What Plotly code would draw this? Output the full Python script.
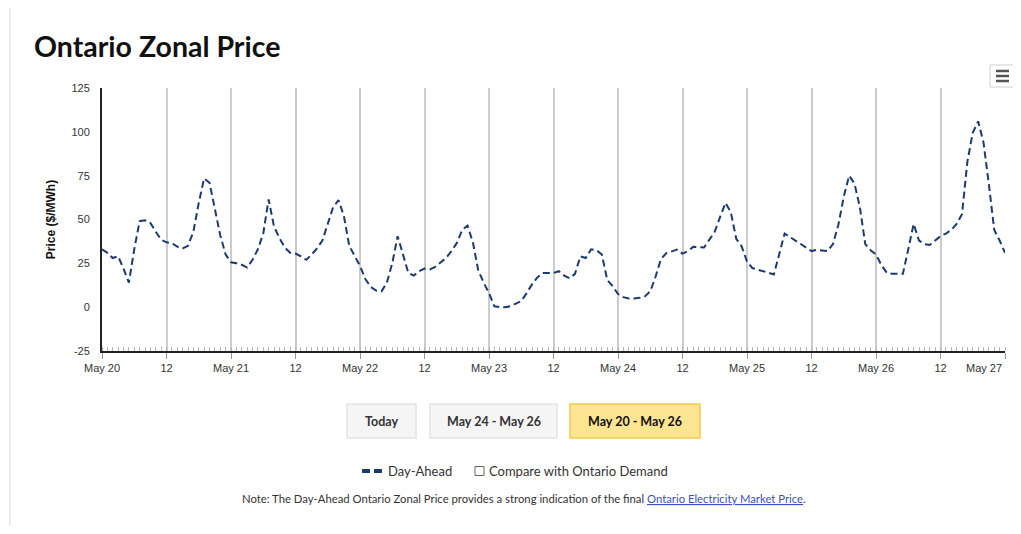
import pandas as pd
import plotly.graph_objects as go

# --- data: hourly day-ahead Ontario zonal price ---
start = "2024-05-20 00:00"
day_ahead_price = [
    # May 20
    33, 31, 28, 29, 22, 14, 33, 49, 49.5, 48, 43, 38.5,
    37, 36.5, 34.5, 33.5, 35, 43, 59.5, 73.5, 71, 55, 41, 30,
    # May 21
    25.6, 25, 24.2, 22.6, 27, 33, 42, 61.5, 46, 39.5, 34, 31,
    30.6, 29, 27, 30, 33.5, 38, 47, 57, 61, 52, 35, 29,
    # May 22
    23.5, 16, 11.5, 9.5, 9, 14, 25, 40.5, 29.5, 19.5, 18, 20.5,
    22, 21.5, 23, 25.5, 28, 32, 36.5, 44, 46.5, 37, 21, 14,
    # May 23
    8, 0.5, 0, 0, 0.5, 2, 3.5, 8, 13, 17, 19.5, 19.5,
    19.5, 20.5, 18, 16.5, 19, 29, 28, 33, 32.5, 30, 15.5, 12,
    # May 24
    7.5, 5.7, 5, 5, 5.3, 6.1, 9, 17.5, 27.5, 30.8, 32, 32.8,
    30.5, 32, 34.4, 34, 34, 38.5, 43, 51.5, 59.5, 54, 39, 34.7,
    # May 25
    26, 22.3, 21.5, 20.5, 19.6, 18.6, 30, 42, 40, 38, 36.5, 34,
    32, 32.7, 32.5, 32, 36, 47, 63, 75, 70.5, 57, 36, 32.5,
    # May 26
    30, 24, 19.6, 19, 19, 19, 33, 47.5, 38, 36, 35.5, 38,
    40.5, 42, 44, 47.5, 53, 83, 99.5, 106, 94, 70, 44, 38,
    # May 27 00:00
    31,
]
hours = pd.date_range(start, periods=len(day_ahead_price), freq="h")

tick_dates = pd.date_range(start, "2024-05-27 00:00", freq="12h")
tick_labels = ["May 20", "12", "May 21", "12", "May 22", "12", "May 23", "12",
               "May 24", "12", "May 25", "12", "May 26", "12", "May 27"]
price_ticks = [-25, 0, 25, 50, 75, 100, 125]
price_labels = ["-25", "0", "25", "50", "75", "100", "125"]

# page is 1021x534, the figure sits 8px in from the top-left (body margin)
PAGE_W, PAGE_H = 1021, 534
OFF = 8
W, H = PAGE_W - OFF, PAGE_H - 2 * OFF
# plot area in page pixels, used to place the furniture around the chart
L, R, T, B = 102, 1005, 88, 351


def px(x):
    return (x - L) / (R - L)


def py(y):
    return (B - y) / (B - T)


LINE = "#1b3b6f"
UI_FONT = "Lato, 'Open Sans', sans-serif"
AX_FONT = "'Liberation Sans', Arial, sans-serif"

fig = go.Figure()
fig.add_trace(go.Scatter(
    x=hours, y=day_ahead_price, mode="lines", name="Day-Ahead",
    line=dict(color=LINE, width=2, dash="7px,4px"),
    showlegend=False,
))

fig.update_layout(
    width=W, height=H,
    margin=dict(l=L - OFF, r=PAGE_W - R, t=T - OFF, b=H + OFF - B, pad=0),
    paper_bgcolor="white", plot_bgcolor="white",
    font=dict(family=AX_FONT, size=11, color="#333"),
)

# last label is kept inside the chart (as the original does), drawn separately below
fig.update_xaxes(
    range=[tick_dates[0], tick_dates[-1]],
    tickmode="array", tickvals=tick_dates, ticktext=tick_labels[:-1] + [""],
    tickfont=dict(family=AX_FONT, size=11, color="#333"),
    showgrid=True, gridcolor="#cccccc", gridwidth=2,
    showline=True, linecolor="#222", linewidth=1.5,
    ticks="outside", ticklen=6, tickcolor="#999", tickwidth=1,
    minor=dict(tickmode="linear", tick0=start, dtick=3600000,
               ticks="inside", ticklen=4, tickcolor="#b5b5b5", showgrid=False),
    zeroline=False,
)
fig.update_yaxes(
    range=[-25, 125], tickmode="array", tickvals=price_ticks, ticktext=price_labels,
    tickfont=dict(family=AX_FONT, size=11, color="#333"),
    ticklabelstandoff=8,
    showgrid=False, zeroline=False,
    showline=True, linecolor="#222", linewidth=2,
    title=dict(text="<b>Price ($/MWh)</b>", standoff=13,
               font=dict(family=AX_FONT, size=12, color="#111")),
)

shapes = []
annos = []

annos.append(dict(text=tick_labels[-1], xref="paper", yref="paper", x=px(1004), y=py(360),
                  xanchor="right", yanchor="top", showarrow=False,
                  font=dict(family=AX_FONT, size=11, color="#333")))

# card border (top and left)
shapes.append(dict(type="line", xref="paper", yref="paper", x0=px(10), x1=px(PAGE_W), y0=py(6), y1=py(6),
                   line=dict(color="#e4e4e4", width=1.5)))
shapes.append(dict(type="line", xref="paper", yref="paper", x0=px(10), x1=px(10), y0=py(6), y1=py(PAGE_H),
                   line=dict(color="#e4e4e4", width=1.5)))

# title
annos.append(dict(text="<b>Ontario Zonal Price</b>", xref="paper", yref="paper",
                  x=px(32), y=py(46), xanchor="left", yanchor="middle", showarrow=False,
                  font=dict(family=UI_FONT, size=28.5, color="#111")))

# menu button
shapes.append(dict(type="rect", xref="paper", yref="paper", x0=px(990), x1=px(1015), y0=py(65), y1=py(87),
                   line=dict(color="#cfcfcf", width=1), fillcolor="white"))
for yy in (71, 76, 81):
    shapes.append(dict(type="line", xref="paper", yref="paper", x0=px(996), x1=px(1009), y0=py(yy), y1=py(yy),
                       line=dict(color="#555", width=2.5)))

# range buttons
buttons = [("Today", 347, 416, False), ("May 24 - May 26", 430, 557, False), ("May 20 - May 26", 570, 700, True)]
for label, x0, x1, active in buttons:
    shapes.append(dict(type="rect", xref="paper", yref="paper", x0=px(x0), x1=px(x1), y0=py(404), y1=py(438),
                       line=dict(color="#f2c94c" if active else "#e3e3e3", width=1.5),
                       fillcolor="#fde591" if active else "#f5f5f5"))
    annos.append(dict(text=f"<b>{label}</b>", xref="paper", yref="paper",
                      x=px((x0 + x1) / 2), y=py(421), xanchor="center", yanchor="middle", showarrow=False,
                      font=dict(family=UI_FONT, size=12.5, color="#111" if active else "#333")))

# legend row
for x0, x1 in ((362, 370), (374, 382)):
    shapes.append(dict(type="line", xref="paper", yref="paper", x0=px(x0), x1=px(x1), y0=py(471), y1=py(471),
                       line=dict(color=LINE, width=4)))
annos.append(dict(text="Day-Ahead", xref="paper", yref="paper", x=px(386), y=py(471),
                  xanchor="left", yanchor="middle", showarrow=False,
                  font=dict(family=UI_FONT, size=13, color="#333")))
shapes.append(dict(type="rect", xref="paper", yref="paper", x0=px(475), x1=px(484), y0=py(466.5), y1=py(475.5),
                   line=dict(color="#666", width=1), fillcolor="white"))
annos.append(dict(text="Compare with Ontario Demand", xref="paper", yref="paper", x=px(487), y=py(471),
                  xanchor="left", yanchor="middle", showarrow=False,
                  font=dict(family=UI_FONT, size=13, color="#333")))

# note
annos.append(dict(
    text="Note: The Day-Ahead Ontario Zonal Price provides a strong indication of the final "
         "<a href='#'><span style='color:#3d4fc4'><u>Ontario Electricity Market Price</u></span></a>.",
    xref="paper", yref="paper", x=px(524), y=py(498), xanchor="center", yanchor="middle", showarrow=False,
    font=dict(family=UI_FONT, size=11.3, color="#333")))

fig.update_layout(shapes=shapes, annotations=annos)

fig.write_html("out.html", config={"displayModeBar": False})
